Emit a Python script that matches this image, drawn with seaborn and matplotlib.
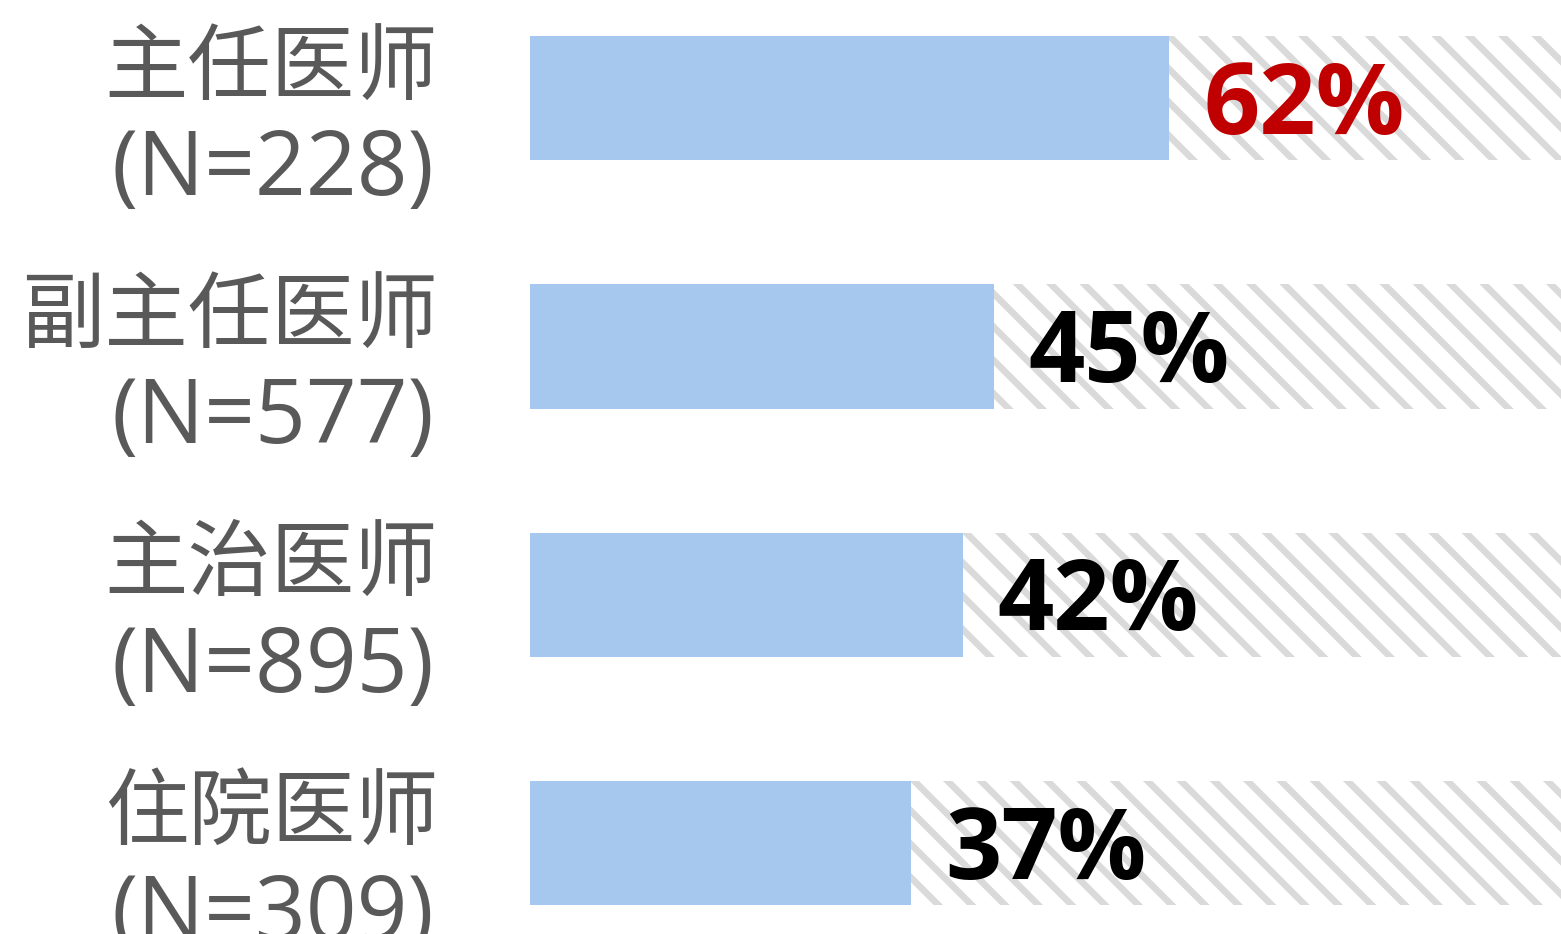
import matplotlib

matplotlib.use("Agg")
import matplotlib.pyplot as plt
import matplotlib.transforms as mtransforms
import pandas as pd
import seaborn as sns

# data
titles = ["主任医师", "副主任医师", "主治医师", "住院医师"]
counts = [228, 577, 895, 309]
shares = [62, 45, 42, 37]
full_scale = [100, 100, 100, 100]
highlight = [True, False, False, False]

sns.set_theme(style="white")
plt.rcParams["font.family"] = ["Noto Sans CJK SC", "DejaVu Sans"]
plt.rcParams["hatch.linewidth"] = 2.4

df = pd.DataFrame({"title": titles, "share": shares, "full": full_scale})

fig = plt.figure(figsize=(7.805, 4.67), dpi=200)
ax = fig.add_axes([530 / 1561, 0, 1 - 530 / 1561, 1])

# hatched track up to 100%, then the actual share on top
sns.barplot(data=df, x="full", y="title", orient="h", ax=ax, width=0.5,
            color="white", edgecolor="#dadada", linewidth=0, hatch="\\\\",
            saturation=1)
sns.barplot(data=df, x="share", y="title", orient="h", ax=ax, width=0.5,
            color="#a6c8ee", linewidth=0, saturation=1)

ax.set_xlim(0, 100)
ax.set_ylim(3.366, -0.395)
ax.set_xticks([])
ax.set_yticks([])
ax.set_xlabel("")
ax.set_ylabel("")
sns.despine(ax=ax, left=True, bottom=True)

trans = mtransforms.blended_transform_factory(ax.transAxes, ax.transData)
for i, (t, n, v, hl) in enumerate(zip(titles, counts, shares, highlight)):
    ax.text(-0.089, i - 0.12, t, transform=trans, ha="right", va="center",
            fontsize=30, color="#595959")
    ax.text(-0.093, i + 0.39, f"(N={n})", transform=trans, ha="right",
            va="baseline", fontsize=32, color="#595959",
            family=["Open Sans", "DejaVu Sans"])
    ax.text(v + 3.3, i + 0.04, f"{v}%", ha="left", va="center",
            fontsize=35.5, fontweight="bold", family=["Open Sans", "DejaVu Sans"],
            color="#c00000" if hl else "black")

fig.savefig("out.png", dpi=200)
